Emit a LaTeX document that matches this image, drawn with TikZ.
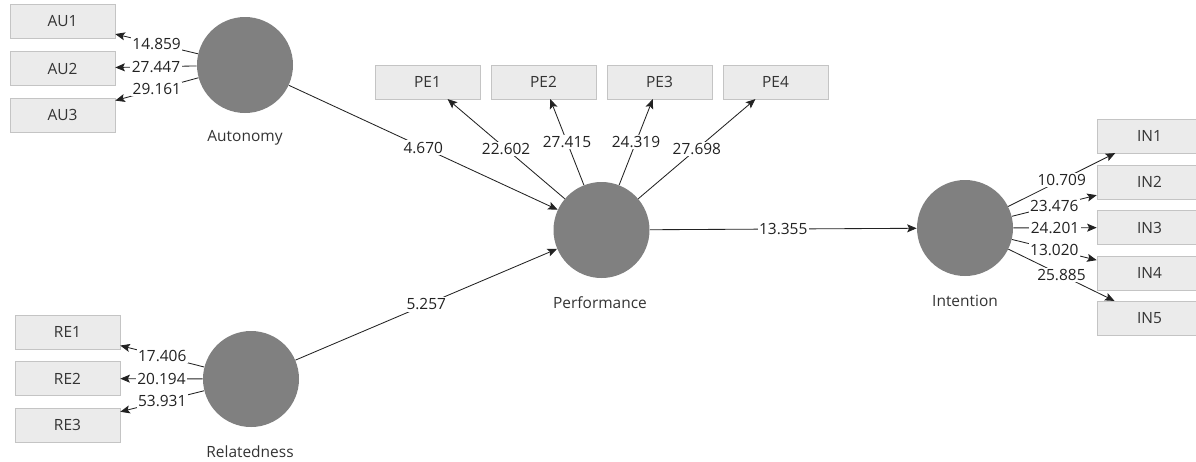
\documentclass[tikz,border=0pt]{standalone}
\usepackage{fontspec}
\setmainfont{Open Sans}
\usetikzlibrary{arrows.meta}

\definecolor{latent}{HTML}{808080}
\definecolor{itembox}{HTML}{EBEBEB}
\definecolor{itemline}{HTML}{C4C4C4}
\definecolor{pathline}{HTML}{222222}
\definecolor{txt}{HTML}{333333}

\begin{document}
\begin{tikzpicture}[x=0.25mm, y=-0.25mm, >={Stealth[length=2.4mm,width=2mm,inset=0.5mm]},
  font=\fontsize{11}{13}\selectfont, text=txt,
  construct/.style={circle, fill=latent, minimum size=24mm, inner sep=0pt},
  item/.style={rectangle, draw=itemline, fill=itembox, minimum width=26.25mm, minimum height=8.4mm, inner sep=0pt},
  edge/.style={->, pathline, line width=0.6pt},
  weight/.style={fill=white, inner sep=1pt}]

\useasboundingbox (0,0) rectangle (1196,461);

% --- Latent constructs ---
\node[construct] (Autonomy) at (245,65) {};
\node[construct] (Relatedness) at (251,379) {};
\node[construct] (Performance) at (601.5,230) {};
\node[construct] (Intention) at (965,228) {};

\node (AutonomyName) at (245,138) {Autonomy};
\node (RelatednessName) at (250,452) {Relatedness};
\node (PerformanceName) at (600,303) {Performance};
\node (IntentionName) at (965,301) {Intention};

% --- Indicators ---
\foreach \i/\y in {1/21.5, 2/68.5, 3/115}
  \node[item] (AU\i) at (62.5,\y) {AU\i};
\foreach \i/\y in {1/332, 2/378.5, 3/425}
  \node[item] (RE\i) at (67.5,\y) {RE\i};
\foreach \i/\x in {1/427.5, 2/543.5, 3/659.5, 4/775.5}
  \node[item] (PE\i) at (\x,82) {PE\i};
\foreach \i/\y in {1/136, 2/182, 3/227.5, 4/273, 5/318}
  \node[item] (IN\i) at (1149.5,\y) {IN\i};

% --- Outer loadings (t values) ---
\foreach \i/\w in {1/14.859, 2/27.447, 3/29.161}
  \draw[edge] (Autonomy) -- node[weight] {\w} (AU\i);
\foreach \i/\w in {1/17.406, 2/20.194, 3/53.931}
  \draw[edge] (Relatedness) -- node[weight] {\w} (RE\i);
\foreach \i/\w in {1/22.602, 2/27.415, 3/24.319, 4/27.698}
  \draw[edge] (Performance) -- node[weight] {\w} (PE\i);
\foreach \i/\w in {1/10.709, 2/23.476, 3/24.201, 4/13.020, 5/25.885}
  \draw[edge] (Intention) -- node[weight] {\w} (IN\i);

% --- Inner model paths ---
\draw[edge] (Autonomy) -- node[weight] {4.670} (Performance);
\draw[edge] (Relatedness) -- node[weight] {5.257} (Performance);
\draw[edge] (Performance) -- node[weight] {13.355} (Intention);

\end{tikzpicture}
\end{document}
